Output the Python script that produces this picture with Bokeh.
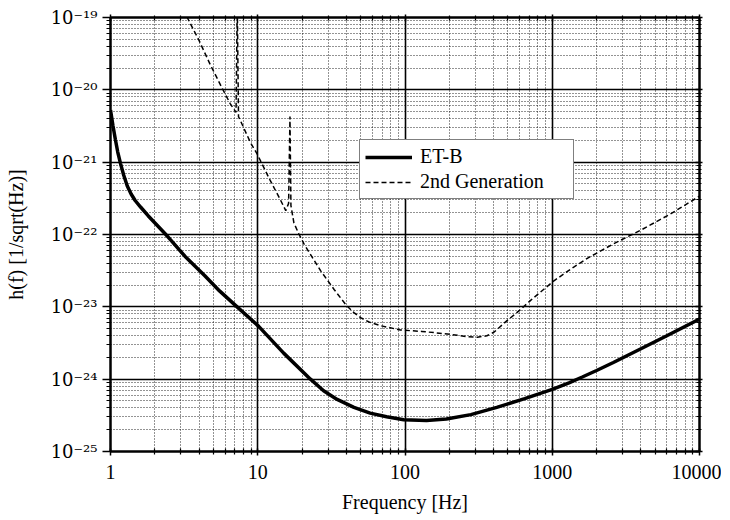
from bokeh.plotting import figure
from bokeh.models import (Range1d, FixedTicker, CustomJSTickFormatter, Legend, LegendItem, LogAxis)
from bokeh.embed import file_html
from bokeh.resources import INLINE
import numpy as np

# ---------------- data ----------------
x_ticks = [1, 10, 100, 1000, 10000]
x_tick_labels = ["1", "10", "100", "1000", "10000"]
y_ticks = [1e-25, 1e-24, 1e-23, 1e-22, 1e-21, 1e-20, 1e-19]
y_tick_labels = ["10⁻²⁵", "10⁻²⁴", "10⁻²³", "10⁻²²", "10⁻²¹", "10⁻²⁰", "10⁻¹⁹"]

# ET-B sensitivity: frequency [Hz] and log10 h(f)
etb_f = [1.0, 1.04, 1.08, 1.12, 1.17, 1.23, 1.30, 1.38, 1.47, 1.6, 1.8, 2.35,
         2.55, 3.2, 4.37, 5.5, 7.24, 10.15, 15, 22.8, 28, 34.6, 45, 58, 75,
         98, 140, 191, 280, 420, 650, 1000, 1300, 1600, 2000, 2600, 4000,
         6000, 10000]
etb_logh = [-20.28, -20.50, -20.69, -20.86, -21.02, -21.18, -21.33, -21.44,
            -21.53, -21.62, -21.74, -21.99, -22.07, -22.30, -22.57, -22.78,
            -23.00, -23.27, -23.64, -24.00, -24.16, -24.28, -24.39, -24.47,
            -24.52, -24.56, -24.57, -24.55, -24.49, -24.39, -24.27, -24.14,
            -24.05, -23.97, -23.88, -23.77, -23.58, -23.40, -23.17]

# 2nd Generation sensitivity
gen2_f = [3.3, 4.0, 4.78, 5.74, 6.5, 6.9, 7.12, 7.26, 7.40, 7.64, 8.93, 9.92,
          12.2, 14.0, 15.5, 16.2, 16.55, 16.8, 17.6, 19.0, 20.6, 26.7, 33,
          40, 45, 50, 57, 68, 93, 130, 194, 260, 310, 360, 402, 500, 600,
          713, 1027, 1400, 1730, 2600, 3990, 6300, 10000]
gen2_logh = [-18.99, -19.32, -19.66, -19.98, -20.19, -20.27, -20.31, -18.8,
             -20.37, -20.43, -20.73, -20.89, -21.26, -21.49, -21.67, -21.57,
             -20.37, -21.60, -21.84, -21.99, -22.13, -22.50, -22.76, -22.98,
             -23.08, -23.15, -23.21, -23.26, -23.32, -23.34, -23.375, -23.41,
             -23.42, -23.40, -23.35, -23.18, -23.05, -22.91, -22.64, -22.45,
             -22.33, -22.13, -21.94, -21.72, -21.47]

etb_h = [10.0 ** v for v in etb_logh]
gen2_h = [10.0 ** v for v in gen2_logh]

FONT = "'Liberation Serif', 'Times New Roman', 'DejaVu Serif', serif"
SUP_FONT = "'DejaVu Serif', serif"

def minors(ticks):
    out = []
    for t in ticks[:-1]:
        out += [k * t for k in range(2, 10)]
    return out

p = figure(x_axis_type="log", y_axis_type="log",
           x_range=Range1d(1, 10000), y_range=Range1d(1e-25, 1e-19),
           frame_width=589, frame_height=434,
           min_border_left=110, min_border_right=22,
           min_border_top=17, min_border_bottom=60,
           output_backend="svg", toolbar_location=None)

p.background_fill_color = "white"
p.border_fill_color = "white"
p.outline_line_color = "black"
p.outline_line_width = 2

fmt_code = """
const lt = Math.log10(tick);
for (let i = 0; i < tvals.length; i++) {
  if (Math.abs(Math.log10(tvals[i]) - lt) < 1e-6) return tlabels[i];
}
return "";
"""

xa = p.xaxis[0]
xa.ticker = FixedTicker(ticks=x_ticks, minor_ticks=minors(x_ticks))
xa.formatter = CustomJSTickFormatter(args=dict(tvals=x_ticks, tlabels=x_tick_labels), code=fmt_code)
xa.axis_label = "Frequency [Hz]"

ya = p.yaxis[0]
ya.ticker = FixedTicker(ticks=y_ticks, minor_ticks=minors(y_ticks))
ya.formatter = CustomJSTickFormatter(args=dict(tvals=y_ticks, tlabels=y_tick_labels), code=fmt_code)
ya.axis_label = "h(f) [1/sqrt(Hz)]"

for ax in (xa, ya):
    ax.axis_line_color = "black"
    ax.axis_line_width = 2
    ax.major_tick_line_color = "black"
    ax.minor_tick_line_color = "black"
    ax.major_tick_line_width = 1.5
    ax.minor_tick_line_width = 1.2
    ax.major_label_text_font = FONT
    ax.major_label_text_font_size = "20px"
    ax.major_label_text_color = "black"
    ax.axis_label_text_font = FONT
    ax.axis_label_text_font_size = "20px"
    ax.axis_label_text_font_style = "normal"
    ax.axis_label_text_color = "black"

ya.major_label_text_font = SUP_FONT
ya.major_label_text_font_size = "18px"

xa.major_tick_out = 4
xa.major_tick_in = 3
xa.minor_tick_out = 3
xa.minor_tick_in = 3
xa.major_label_standoff = 9
xa.axis_label_standoff = 9

ya.major_tick_out = 8
ya.major_tick_in = 0
ya.minor_tick_out = 4
ya.minor_tick_in = 0
ya.major_label_standoff = 5
ya.axis_label_standoff = 21

# tick-only axes on the top and right borders (no labels)
empty_code = "return '';"
top_ax = LogAxis(ticker=FixedTicker(ticks=x_ticks, minor_ticks=minors(x_ticks)),
                 formatter=CustomJSTickFormatter(code=empty_code))
right_ax = LogAxis(ticker=FixedTicker(ticks=y_ticks, minor_ticks=minors(y_ticks)),
                   formatter=CustomJSTickFormatter(code=empty_code))
for ax in (top_ax, right_ax):
    ax.axis_line_color = "black"
    ax.axis_line_width = 2
    ax.major_tick_line_color = "black"
    ax.minor_tick_line_color = "black"
    ax.major_tick_line_width = 1.5
    ax.minor_tick_line_width = 1.2
    ax.major_tick_out = 3
    ax.major_tick_in = 4
    ax.minor_tick_out = 2
    ax.minor_tick_in = 3
    ax.major_label_standoff = 0
    ax.major_label_text_font_size = "0px"
p.add_layout(top_ax, "above")
p.add_layout(right_ax, "right")

for g in (p.xgrid[0], p.ygrid[0]):
    g.grid_line_color = "black"
    g.grid_line_width = 1.6
    g.minor_grid_line_color = "black"
    g.minor_grid_line_alpha = 0.85
    g.minor_grid_line_width = 1
    g.minor_grid_line_dash = "1 2"

r_etb = p.line(etb_f, etb_h, line_color="black", line_width=3.5)
r_gen2 = p.line(gen2_f, gen2_h, line_color="black", line_width=1.5, line_dash="5 3")

legend = Legend(items=[LegendItem(label="ET-B", renderers=[r_etb]),
                       LegendItem(label="2nd Generation", renderers=[r_gen2])],
                location=(249, 252))
legend.label_text_font = FONT
legend.label_text_font_size = "20px"
legend.label_text_color = "black"
legend.glyph_width = 47
legend.glyph_height = 22
legend.label_height = 22
legend.label_width = 148
legend.label_standoff = 8
legend.padding = 5
legend.spacing = 2
legend.margin = 0
legend.border_line_color = "black"
legend.border_line_width = 1.5
legend.background_fill_color = "white"
legend.background_fill_alpha = 1.0
p.add_layout(legend)

open("out.html", "w").write(file_html(p, INLINE))
